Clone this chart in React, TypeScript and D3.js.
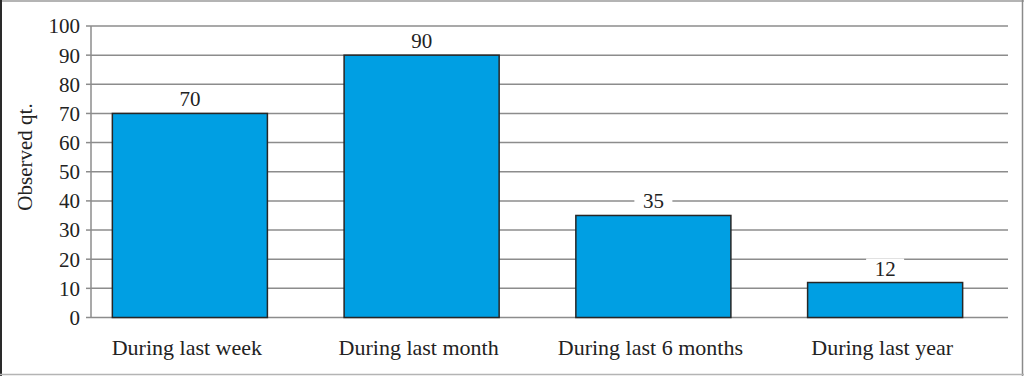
import React from "react";
import * as d3 from "d3";

const categories = ["During last week", "During last month", "During last 6 months", "During last year"];
const values = [70, 90, 35, 12];
const yTicks = [0, 10, 20, 30, 40, 50, 60, 70, 80, 90, 100];
const yTitle = "Observed qt.";

const W = 1024;
const H = 376;
const FONT = "'Liberation Serif', 'Times New Roman', serif";

export default function App() {
  const y = d3.scaleLinear().domain([0, 100]).range([317.5, 26]);
  const x = d3
    .scaleBand<string>()
    .domain(categories)
    .range([74, 1001])
    .paddingInner(0.331)
    .paddingOuter(0.1655);
  const plotLeft = 91;
  const plotRight = 1008;

  return (
    <svg
      width={W}
      height={H}
      style={{ position: "absolute", left: 0, top: 0, background: "#fff" }}
      fontFamily={FONT}
    >
      {/* frame */}
      <rect x={0} y={0} width={W} height={H} fill="#fff" />
      <line x1={0} y1={1} x2={W} y2={1} stroke="#b4b4b4" strokeWidth={2} />
      <line x1={1} y1={0} x2={1} y2={H} stroke="#2a2a2a" strokeWidth={2} />
      <line x1={W - 1.5} y1={0} x2={W - 1.5} y2={H} stroke="#8a8a8a" strokeWidth={1.5} />
      <line x1={0} y1={H - 1.5} x2={W} y2={H - 1.5} stroke="#b4b4b4" strokeWidth={1.5} />

      {/* gridlines */}
      {yTicks
        .filter((t) => t !== 0)
        .map((t) => (
          <line key={"g" + t} x1={plotLeft} x2={plotRight} y1={y(t)} y2={y(t)} stroke="#8c8c8c" strokeWidth={1.5} />
        ))}

      {/* y axis */}
      <line x1={plotLeft} x2={plotLeft} y1={y(100)} y2={y(0)} stroke="#8c8c8c" strokeWidth={1.5} />
      {yTicks.map((t) => (
        <g key={"t" + t}>
          <line x1={plotLeft - 5} x2={plotLeft} y1={y(t)} y2={y(t)} stroke="#8c8c8c" strokeWidth={1.5} />
          <text x={80} y={y(t)} dy="0.35em" textAnchor="end" fontSize={21} fill="#222">
            {t}
          </text>
        </g>
      ))}
      <line x1={plotLeft} x2={plotRight} y1={y(0)} y2={y(0)} stroke="#8c8c8c" strokeWidth={1.5} />

      {/* y title */}
      <text
        transform={`translate(32, 157) rotate(-90)`}
        textAnchor="middle"
        fontSize={21}
        fill="#222"
      >
        {yTitle}
      </text>

      {/* bars */}
      {categories.map((c, i) => {
        const bx = x(c) as number;
        const bw = x.bandwidth();
        const top = y(values[i]);
        const cx = bx + bw / 2;
        return (
          <g key={c}>
            <rect x={bx} y={top} width={bw} height={y(0) - top} fill="#009FE3" stroke="#262626" strokeWidth={1.5} />
            <rect x={cx - 19} y={top - 24} width={38} height={20} fill="#fff" />
            <text x={cx} y={top - 7} textAnchor="middle" fontSize={21} fill="#222">
              {values[i]}
            </text>
            <text x={cx - 3} y={355} textAnchor="middle" fontSize={22} fill="#222">
              {c}
            </text>
          </g>
        );
      })}
    </svg>
  );
}
